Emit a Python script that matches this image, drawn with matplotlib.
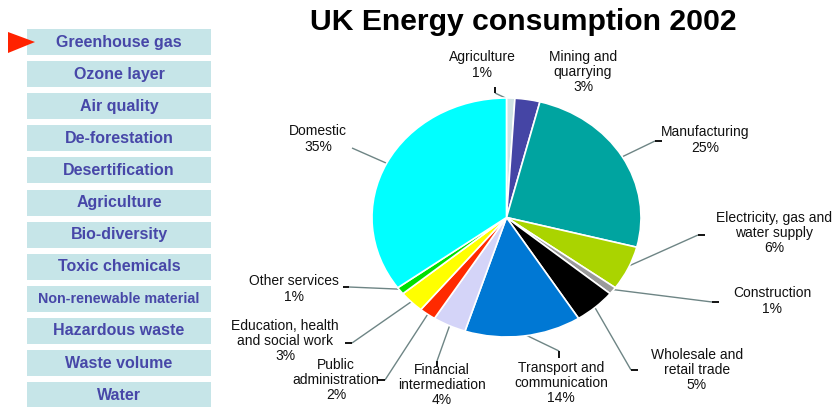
import matplotlib
matplotlib.use("Agg")
import matplotlib.pyplot as plt
from matplotlib.patches import Rectangle, Polygon
import numpy as np

plt.rcParams['font.family'] = ['Liberation Sans', 'DejaVu Sans']

# ---- data ----
title = "UK Energy consumption 2002"
sectors = ["Agriculture", "Mining and\nquarrying", "Manufacturing",
           "Electricity, gas and\nwater supply", "Construction",
           "Wholesale and\nretail trade", "Transport and\ncommunication",
           "Financial\nintermediation", "Public\nadministration",
           "Education, health\nand social work", "Other services", "Domestic"]
shares = [1, 3, 25, 6, 1, 5, 14, 4, 2, 3, 1, 35]
colors = ["#cfe3e4", "#4545a5", "#00a4a0", "#aad400", "#9a9a9a", "#000000",
          "#0078d4", "#d4d4f8", "#ff2a00", "#ffff00", "#00e000", "#00ffff"]
menu_items = ["Greenhouse gas", "Ozone layer", "Air quality", "De-forestation",
              "Desertification", "Agriculture", "Bio-diversity", "Toxic chemicals",
              "Non-renewable material", "Hazardous waste", "Waste volume", "Water"]

# label layout (pixel positions: text centre, elbow point, tick end)
label_pos = [(482, 65), (583, 72), (705, 140), (774, 233), (772, 301), (697, 370),
             (561, 383), (442, 385), (336, 380), (285, 341), (294, 289), (318, 139)]
elbow = [(495, 93), None, (655, 141), (698, 235), (712, 302), (631, 370),
         (559, 351), (437, 361), (385, 380), (352, 343), (349, 287), (352, 148)]
tick_end = [(495, 87), None, (662, 141), (705, 235), (719, 302), (638, 370),
            (559, 358), (437, 367), (378, 380), (345, 343), (343, 287), (352, 148)]

W, H = 834, 407
fig = plt.figure(figsize=(W / 100, H / 100), dpi=100)
fig.patch.set_facecolor("white")

# overlay axes in pixel coordinates
ov = fig.add_axes([0, 0, 1, 1])
ov.set_xlim(0, W)
ov.set_ylim(H, 0)
ov.axis("off")

# pie axes (elliptical)
L, R, T, B = 372, 641, 98, 337
axp = fig.add_axes([L / W, 1 - B / H, (R - L) / W, (B - T) / H])
wedges, _ = axp.pie(shares, colors=colors, startangle=90, counterclock=False,
                    wedgeprops=dict(edgecolor="white", linewidth=1.2))
axp.set_aspect("auto")
axp.set_xlim(-1, 1)
axp.set_ylim(-1, 1)

to_ov = axp.transData + ov.transData.inverted()
for i, (w, lab, sh) in enumerate(zip(wedges, sectors, shares)):
    tx, ty = label_pos[i]
    ov.text(tx, ty, f"{lab}\n{sh}%", ha="center", va="center", fontsize=10,
            color="#111111", linespacing=1.1)
    if elbow[i] is None:
        continue
    ang = np.deg2rad((w.theta1 + w.theta2) / 2)
    sx, sy = to_ov.transform((0.98 * np.cos(ang), 0.98 * np.sin(ang)))
    ex, ey = elbow[i]
    ov.plot([sx, ex], [sy, ey], color="#6e8585", lw=1.0, solid_capstyle="butt")
    kx, ky = tick_end[i]
    ov.plot([ex, kx], [ey, ky], color="#000000", lw=1.3, solid_capstyle="butt")

# title
ov.text(523, 22, title, ha="center", va="center", fontsize=21.7,
        fontweight="bold", color="#000000")

# menu
x0, x1 = 27, 211
for i, item in enumerate(menu_items):
    cy = 42 + 32.1 * i
    ov.add_patch(Rectangle((x0, cy - 13), x1 - x0, 26, facecolor="#c6e5e8",
                           edgecolor="none"))
    fs = 10.3 if len(item) > 18 else 11.5
    ov.text((x0 + x1) / 2, cy, item, ha="center", va="center", fontsize=fs,
            fontweight="bold", color="#4747a8")

ov.add_patch(Polygon([(8, 32), (35, 42), (8, 53)], closed=True,
                     facecolor="#ff2200", edgecolor="none"))

fig.savefig("out.png", dpi=100)
